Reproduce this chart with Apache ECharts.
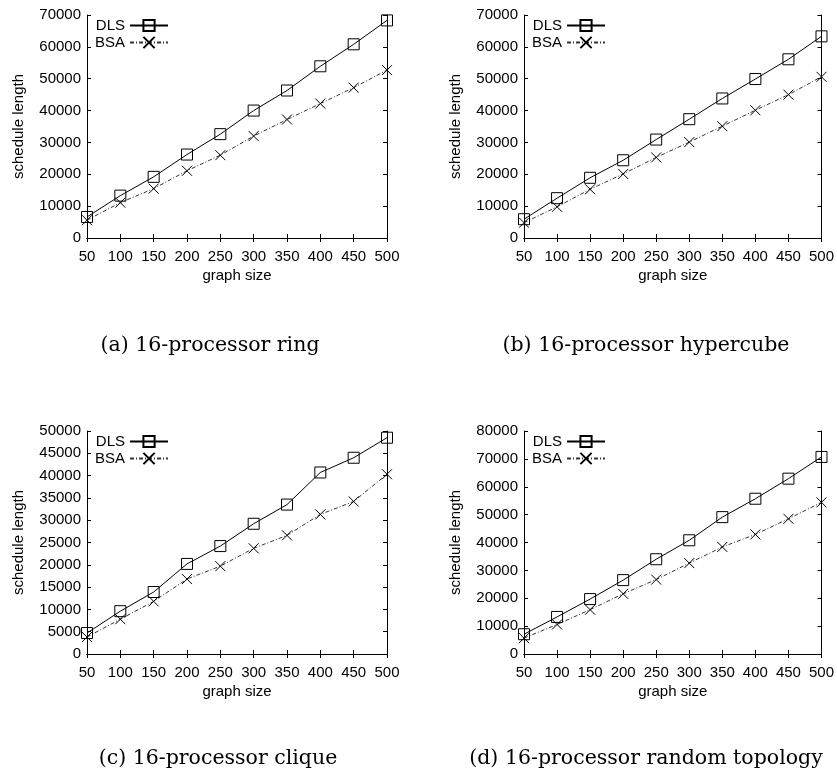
<!DOCTYPE html>
<html>
<head>
<meta charset="utf-8">
<script src="https://cdn.jsdelivr.net/npm/echarts@6/dist/echarts.min.js"></script>
<style>
  html, body { margin: 0; background: #fff; }
  #main { width: 837px; height: 777px; }
</style>
</head>
<body>
<div id="main"></div>
<script>
  // graph sizes on the x axis
  var graphSize = [50, 100, 150, 200, 250, 300, 350, 400, 450, 500];

  // schedule lengths
  var ringDLS = [6600, 13300, 19200, 26200, 32600, 40000, 46300, 53900, 60800, 68300];
  var ringBSA = [5600, 11100, 15500, 21100, 26000, 32000, 37200, 42200, 47200, 52700];
  var cubeDLS = [5900, 12500, 18900, 24400, 30900, 37300, 43800, 49900, 56100, 63300];
  var cubeBSA = [4800, 9800, 15300, 20100, 25300, 30100, 35100, 40100, 45000, 50600];
  var cliqueDLS = [4700, 9600, 13900, 20200, 24200, 29200, 33500, 40700, 44000, 48500];
  var cliqueBSA = [3800, 7800, 11800, 16800, 19700, 23700, 26600, 31300, 34200, 40300];
  var randomDLS = [7100, 13300, 19700, 26500, 34000, 40800, 49100, 55700, 62900, 70700];
  var randomBSA = [5700, 10600, 15900, 21600, 26700, 32600, 38400, 42900, 48500, 54400];

  var captions = ['(a) 16-processor ring', '(b) 16-processor hypercube',
                  '(c) 16-processor clique', '(d) 16-processor random topology'];
  var yMax = [70000, 70000, 50000, 80000];
  var yStep = [10000, 10000, 5000, 10000];

  var panels = [
    { dls: ringDLS, bsa: ringBSA, left: 87, top: 15, cx: 210, cy: 346 },
    { dls: cubeDLS, bsa: cubeBSA, left: 524, top: 15, cx: 646, cy: 346 },
    { dls: cliqueDLS, bsa: cliqueBSA, left: 87, top: 431, cx: 218, cy: 759 },
    { dls: randomDLS, bsa: randomBSA, left: 524, top: 431, cx: 646, cy: 759 }
  ];

  var sans = 'Liberation Sans';
  var chart = echarts.init(document.getElementById('main'));

  function pairs(ys) {
    return graphSize.map(function (x, i) { return [x, ys[i]]; });
  }
  function plain(v) { return String(v); }

  var grid = [], xAxis = [], yAxis = [], series = [], legend = [], graphic = [];

  panels.forEach(function (p, k) {
    grid.push({ left: p.left, top: p.top, width: 300, height: 223 });

    var line = { lineStyle: { color: '#000', width: 1 } };
    var tick = { inside: true, length: 4, lineStyle: { color: '#000' } };

    // bottom axis with labels, top axis as mirror
    xAxis.push({
      type: 'value', gridIndex: k, min: 50, max: 500, interval: 50,
      name: 'graph size', nameLocation: 'middle', nameGap: 30,
      nameTextStyle: { fontFamily: sans, fontSize: 15, color: '#000' },
      axisLine: line, axisTick: tick, splitLine: { show: false },
      axisLabel: { fontFamily: sans, fontSize: 15, color: '#000', margin: 11, formatter: plain }
    });
    xAxis.push({
      type: 'value', gridIndex: k, position: 'top', min: 50, max: 500, interval: 50,
      axisLine: line, axisTick: tick, splitLine: { show: false },
      axisLabel: { show: false }
    });

    yAxis.push({
      type: 'value', gridIndex: k, min: 0, max: yMax[k], interval: yStep[k],
      name: 'schedule length', nameLocation: 'middle', nameGap: 61,
      nameTextStyle: { fontFamily: sans, fontSize: 15, color: '#000' },
      axisLine: { show: true, lineStyle: { color: '#000', width: 1 } },
      axisTick: { show: true, inside: true, length: 4, lineStyle: { color: '#000' } },
      splitLine: { show: false },
      axisLabel: { fontFamily: sans, fontSize: 15, color: '#000', margin: 6, formatter: plain }
    });
    yAxis.push({
      type: 'value', gridIndex: k, position: 'right', min: 0, max: yMax[k], interval: yStep[k],
      axisLine: { show: true, lineStyle: { color: '#000', width: 1 } },
      axisTick: { show: true, inside: true, length: 4, lineStyle: { color: '#000' } },
      splitLine: { show: false },
      axisLabel: { show: false }
    });

    series.push({
      name: 'DLS', type: 'line', xAxisIndex: 2 * k, yAxisIndex: 2 * k,
      data: pairs(p.dls),
      symbol: 'rect', symbolSize: 11,
      itemStyle: { color: 'rgba(0,0,0,0)', borderColor: '#000', borderWidth: 1 },
      lineStyle: { color: '#000', width: 1, type: 'solid' },
      animation: false
    });
    series.push({
      name: 'BSA', type: 'line', xAxisIndex: 2 * k, yAxisIndex: 2 * k,
      data: pairs(p.bsa),
      symbol: 'path://M0,0L10,10M10,0L0,10', symbolSize: 10,
      itemStyle: { color: 'rgba(0,0,0,0)', borderColor: '#000', borderWidth: 1 },
      lineStyle: { color: '#333', width: 1, type: [4, 2, 1, 2] },
      animation: false
    });

    legend.push({
      left: p.left + 8, top: p.top + 3, orient: 'vertical', align: 'right',
      padding: 0, itemGap: 2, itemWidth: 38, itemHeight: 14,
      selectedMode: false,
      textStyle: { fontFamily: sans, fontSize: 15, color: '#000' },
      data: ['DLS', 'BSA']
    });

    graphic.push({
      type: 'text', x: p.cx, y: p.cy,
      style: {
        text: captions[k], fill: '#000',
        font: '20.5px "DejaVu Serif"',
        textAlign: 'center', textVerticalAlign: 'middle'
      }
    });
  });

  chart.setOption({
    backgroundColor: '#fff',
    animation: false,
    grid: grid,
    xAxis: xAxis,
    yAxis: yAxis,
    legend: legend,
    series: series,
    graphic: graphic
  });
</script>
</body>
</html>
